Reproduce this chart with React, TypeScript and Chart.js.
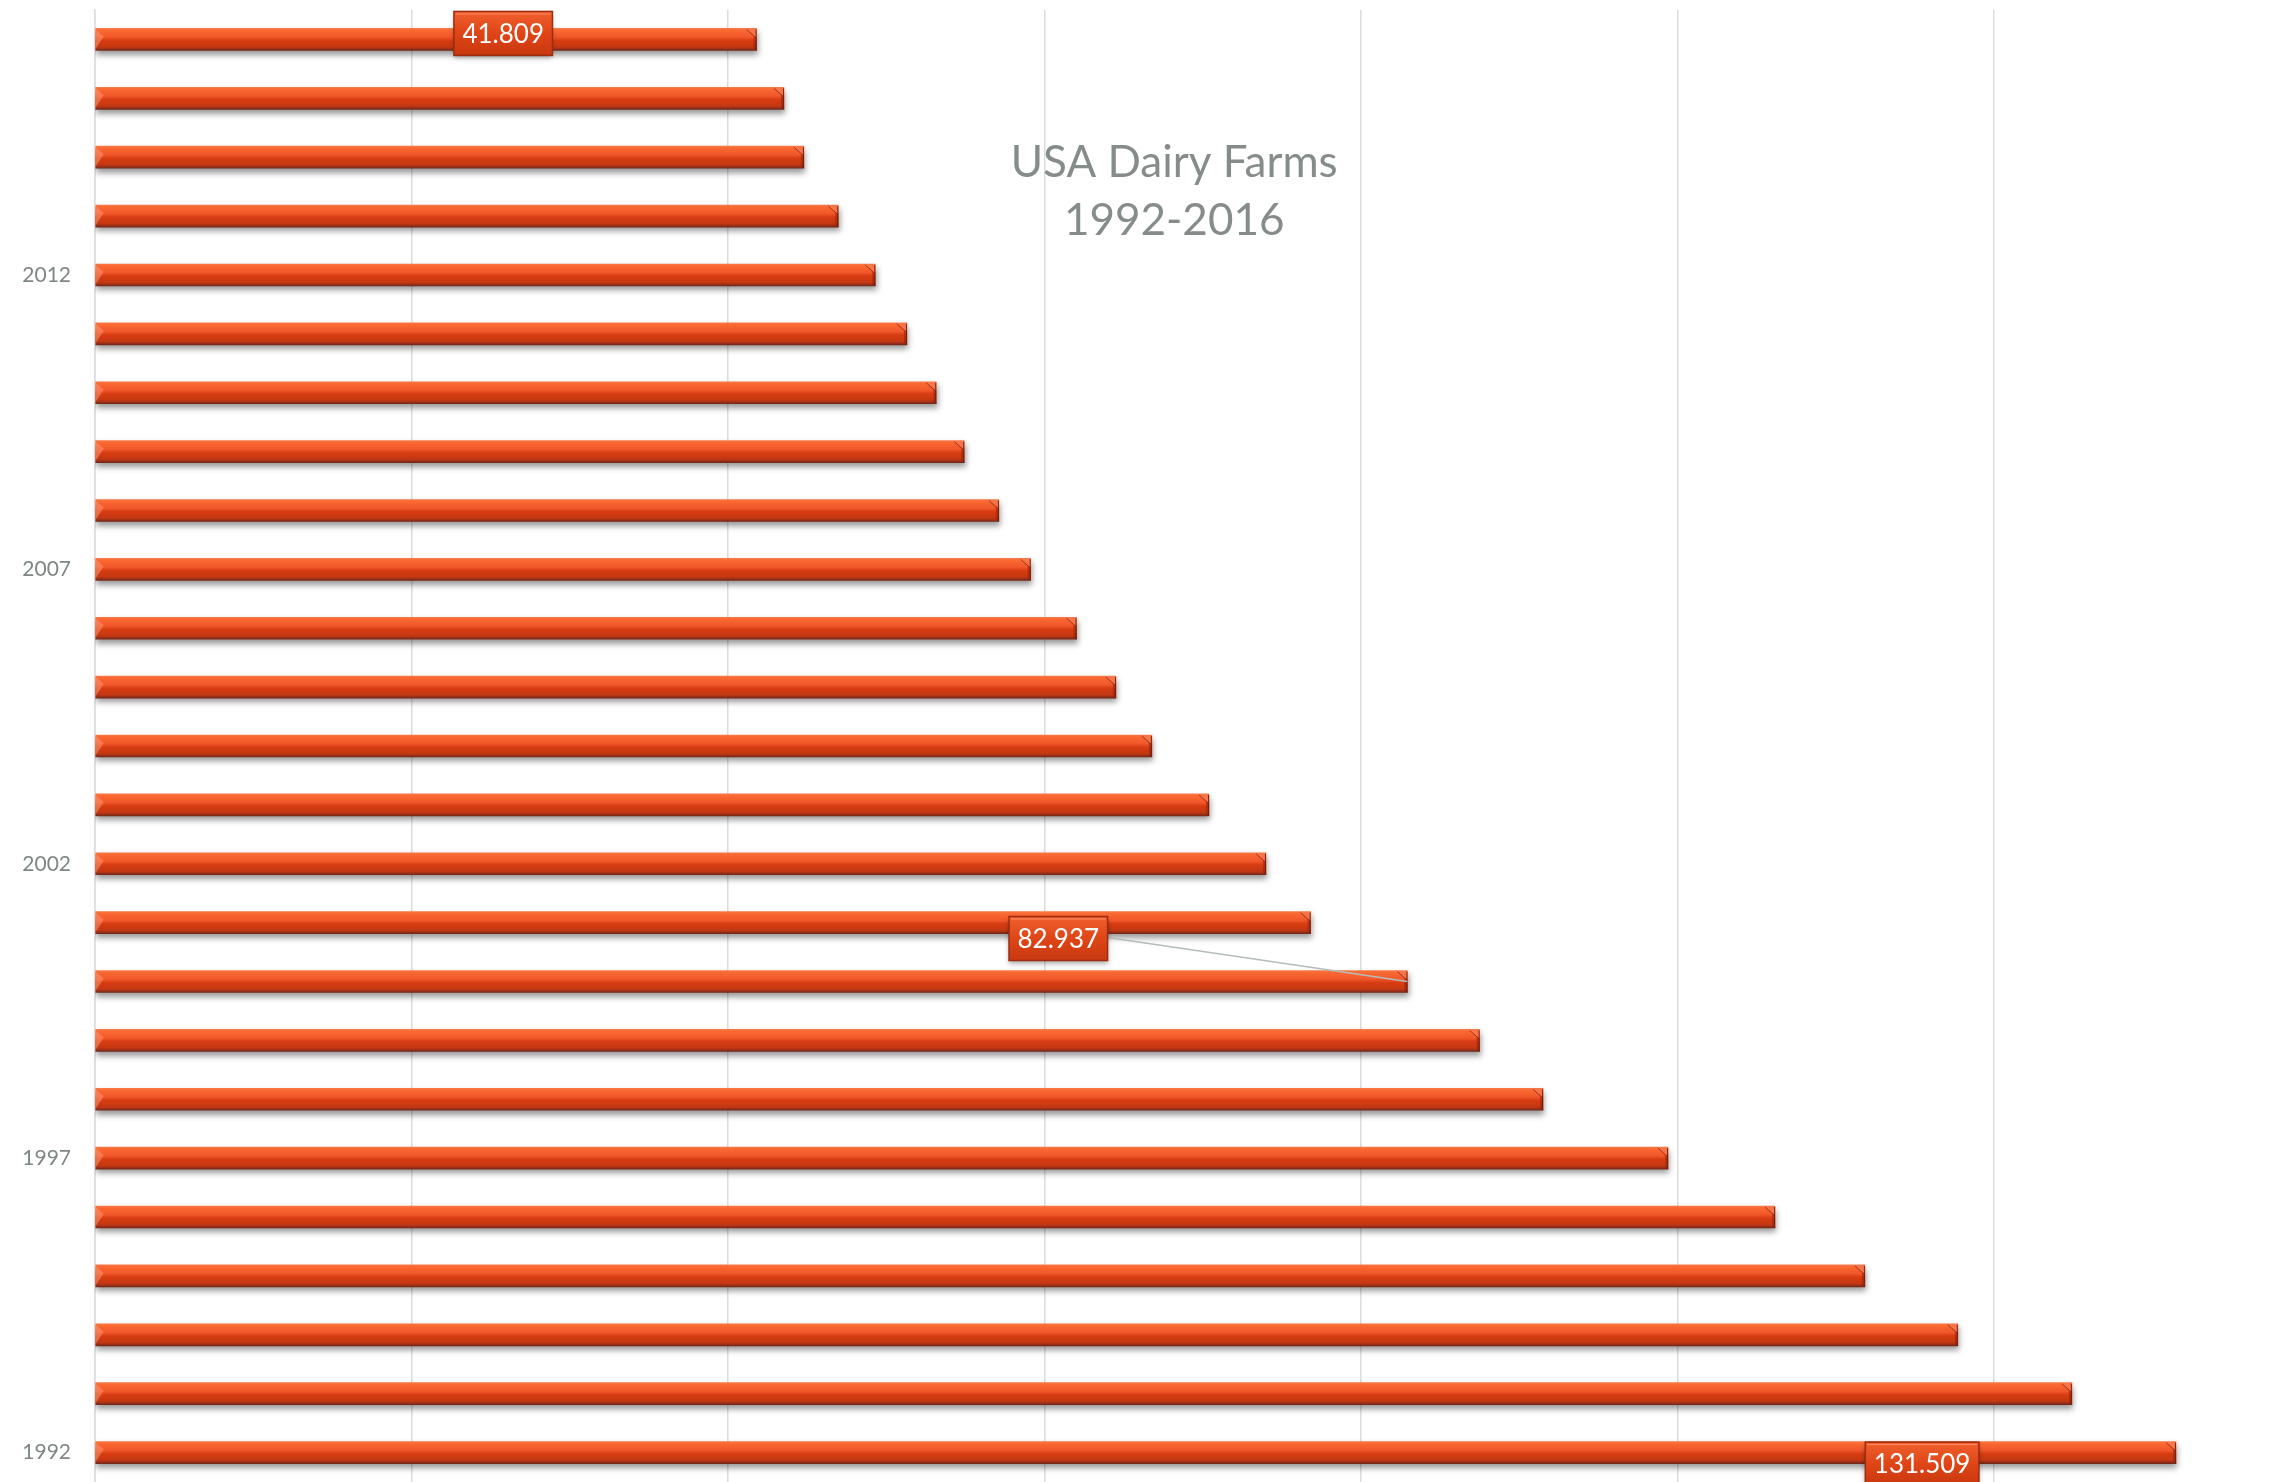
import React, { useEffect, useRef } from 'react';
import { Chart, registerables } from 'chart.js';

Chart.register(...registerables);

const years = [
  '1992', '1993', '1994', '1995', '1996', '1997', '1998', '1999', '2000', '2001', '2002', '2003', '2004',
  '2005', '2006', '2007', '2008', '2009', '2010', '2011', '2012', '2013', '2014', '2015', '2016',
];
// Dairy farms, thousands
const farms = [
  131.509, 124.93, 117.72, 111.85, 106.17, 99.41, 91.51, 87.5, 82.937, 76.82, 74.0, 70.4, 66.79,
  64.52, 62.03, 59.13, 57.12, 54.93, 53.16, 51.31, 49.31, 46.97, 44.8, 43.54, 41.809,
];
const shownYearLabels = ['1992', '1997', '2002', '2007', '2012'];
const labelledYears = ['2016', '2000', '1992'];
const labelTexts = ['41.809', '82.937', '131.509'];
const titleLines = ['USA Dairy Farms', '1992-2016'];

const W = 2289;
const H = 1482;
const BAR_H = 22;
const FONT = 'Lato, "Open Sans", "Liberation Sans", sans-serif';

// placement of each data label: fraction along its bar, vertical offset in px, leader line?
const labelPlacement: Record<string, { frac: number; dy: number; leader: boolean }> = {
  '2016': { frac: 0.617, dy: -6, leader: false },
  '2000': { frac: 0.734, dy: -43, leader: true },
  '1992': { frac: 0.878, dy: 11.5, leader: false },
};

function barGradient(ctx: CanvasRenderingContext2D, yc: number) {
  const t = yc - BAR_H / 2;
  const g = ctx.createLinearGradient(0, t, 0, t + BAR_H);
  g.addColorStop(0, '#f57a4c');
  g.addColorStop(0.07, '#fb6a32');
  g.addColorStop(0.4, '#f0562a');
  g.addColorStop(0.55, '#d83c12');
  g.addColorStop(0.84, '#c43811');
  g.addColorStop(0.92, '#a0301a');
  g.addColorStop(1, '#742816');
  return g;
}

const shadowPlugin = {
  id: 'barShadow',
  beforeDatasetsDraw(chart: any) {
    const ctx = chart.ctx;
    ctx.save();
    ctx.shadowColor = 'rgba(0,0,0,0.4)';
    ctx.shadowBlur = 6;
    ctx.shadowOffsetX = 1;
    ctx.shadowOffsetY = 4;
  },
  afterDatasetsDraw(chart: any) {
    chart.ctx.restore();
  },
};

const decorPlugin = {
  id: 'decor',
  afterDatasetsDraw(chart: any) {
    const ctx: CanvasRenderingContext2D = chart.ctx;
    const meta = chart.getDatasetMeta(0);
    const xs = chart.scales.x;
    // bevels on bar ends
    meta.data.forEach((el: any) => {
      const top = el.y - el.height / 2;
      const bot = el.y + el.height / 2;
      const x = el.x;
      const b = el.base;
      ctx.save();
      ctx.fillStyle = 'rgba(150,35,10,0.55)';
      ctx.beginPath();
      ctx.moveTo(x - 3, top + 8);
      ctx.lineTo(x, top + 8);
      ctx.lineTo(x, bot);
      ctx.lineTo(x - 3, bot - 1);
      ctx.closePath();
      ctx.fill();
      ctx.fillStyle = 'rgba(245,120,80,0.85)';
      ctx.beginPath();
      ctx.moveTo(x - 10, top + 0.5);
      ctx.lineTo(x, top + 0.5);
      ctx.lineTo(x, top + 9);
      ctx.closePath();
      ctx.fill();
      ctx.strokeStyle = 'rgba(140,40,20,0.8)';
      ctx.lineWidth = 1;
      ctx.beginPath();
      ctx.moveTo(x - 10, top + 1);
      ctx.lineTo(x - 1, top + 9);
      ctx.stroke();
      ctx.strokeStyle = 'rgba(110,30,15,0.9)';
      ctx.beginPath();
      ctx.moveTo(x - 0.5, top + 1);
      ctx.lineTo(x - 0.5, bot);
      ctx.stroke();
      ctx.fillStyle = 'rgba(255,150,110,0.55)';
      ctx.beginPath();
      ctx.moveTo(b, top + 1);
      ctx.lineTo(b + 8, top + 8);
      ctx.lineTo(b, bot - 2);
      ctx.closePath();
      ctx.fill();
      ctx.restore();
    });

    // data labels
    labelledYears.forEach((yr, k) => {
      const idx = years.indexOf(yr);
      const el = meta.data[idx];
      if (!el) return;
      const p = labelPlacement[yr];
      const cx = xs.getPixelForValue(farms[idx] * p.frac);
      const cy = el.y + p.dy;
      const text = labelTexts[k];
      ctx.save();
      ctx.font = `26px ${FONT}`;
      const tw = ctx.measureText(text).width;
      const bw = tw + 17;
      const bh = 44;
      const bx = cx - bw / 2;
      const by = cy - bh / 2;
      if (p.leader) {
        ctx.strokeStyle = '#b4bcbc';
        ctx.lineWidth = 1.5;
        ctx.beginPath();
        ctx.moveTo(bx + bw, cy - 1);
        ctx.lineTo(el.x, el.y);
        ctx.stroke();
      }
      ctx.shadowColor = 'rgba(0,0,0,0.35)';
      ctx.shadowBlur = 5;
      ctx.shadowOffsetY = 3;
      const g = ctx.createLinearGradient(0, by, 0, by + bh);
      g.addColorStop(0, '#f0602e');
      g.addColorStop(0.5, '#df4516');
      g.addColorStop(1, '#c8380f');
      ctx.fillStyle = g;
      ctx.fillRect(bx, by, bw, bh);
      ctx.shadowColor = 'transparent';
      ctx.strokeStyle = '#9c2c12';
      ctx.lineWidth = 1.5;
      ctx.strokeRect(bx, by, bw, bh);
      ctx.strokeStyle = 'rgba(255,160,120,0.7)';
      ctx.lineWidth = 1;
      ctx.beginPath();
      ctx.moveTo(bx + 2, by + 2.5);
      ctx.lineTo(bx + bw - 2, by + 2.5);
      ctx.stroke();
      ctx.fillStyle = '#ffffff';
      ctx.textAlign = 'center';
      ctx.textBaseline = 'middle';
      ctx.fillText(text, cx, cy + 1);
      ctx.restore();
    });

    // title
    ctx.save();
    ctx.fillStyle = '#858c8a';
    ctx.font = `44px ${FONT}`;
    ctx.textAlign = 'center';
    ctx.textBaseline = 'alphabetic';
    const tx = xs.getPixelForValue(68.2);
    ctx.fillText(titleLines[0], tx, 177);
    ctx.fillText(titleLines[1], tx, 235);
    ctx.restore();
  },
};

function zeroPad(s: any) {
  s.paddingTop = 0;
  s.paddingBottom = 0;
  s.paddingLeft = 0;
  s.paddingRight = 0;
}

export default function App() {
  const ref = useRef<HTMLCanvasElement | null>(null);

  useEffect(() => {
    if (!ref.current) return;
    const chart = new Chart(ref.current, {
      type: 'bar',
      data: {
        labels: years,
        datasets: [
          {
            data: farms,
            barThickness: BAR_H,
            borderWidth: 0,
            backgroundColor: (c: any) => {
              const ch = c.chart;
              if (!ch.chartArea || c.type !== 'data') return '#e04a1c';
              const yc = ch.scales.y.getPixelForValue(c.dataIndex);
              return barGradient(ch.ctx, yc);
            },
          },
        ],
      },
      options: {
        indexAxis: 'y',
        animation: false,
        responsive: false,
        layout: { padding: { top: 10, left: 0, right: 0, bottom: 0 } },
        plugins: {
          legend: { display: false },
          tooltip: { enabled: false },
          title: { display: false },
        },
        scales: {
          x: {
            type: 'linear',
            min: 0,
            max: 138.65,
            position: 'bottom',
            ticks: { display: false, stepSize: 20, includeBounds: false },
            grid: { color: '#dcdcdc', lineWidth: 1.5, drawTicks: false },
            border: { display: false },
            afterFit: (s: any) => {
              s.height = 0;
              zeroPad(s);
            },
          },
          y: {
            type: 'category',
            reverse: true,
            grid: { display: false, drawTicks: false },
            border: { display: true, color: '#dcdcdc', width: 1.5 },
            ticks: {
              autoSkip: false,
              padding: 24,
              color: '#7f8785',
              font: { family: FONT, size: 21 },
              callback: (v: any) => (shownYearLabels.includes(years[v]) ? years[v] : ''),
            },
            afterFit: (s: any) => {
              s.width = 95;
              zeroPad(s);
            },
          },
        },
      },
      plugins: [shadowPlugin, decorPlugin],
    } as any);
    return () => chart.destroy();
  }, []);

  return (
    <div style={{ position: 'fixed', left: 0, top: 0, width: W, height: H, background: '#ffffff' }}>
      <canvas ref={ref} width={W} height={H} style={{ display: 'block', width: W, height: H }} />
    </div>
  );
}
